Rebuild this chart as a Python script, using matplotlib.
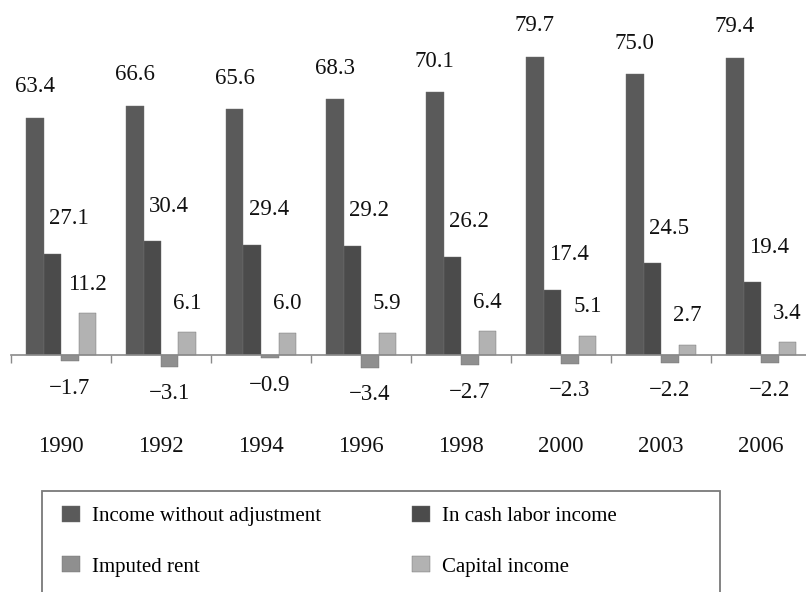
import matplotlib

matplotlib.use("Agg")
import matplotlib.pyplot as plt
import numpy as np
from matplotlib.patches import Rectangle

plt.rcParams["font.family"] = ["Liberation Serif", "DejaVu Serif"]

years = ["1990", "1992", "1994", "1996", "1998", "2000", "2003", "2006"]
series_names = ["Income without adjustment", "In cash labor income", "Imputed rent", "Capital income"]
income_wo_adj = [63.4, 66.6, 65.6, 68.3, 70.1, 79.7, 75.0, 79.4]
cash_labor = [27.1, 30.4, 29.4, 29.2, 26.2, 17.4, 24.5, 19.4]
imputed_rent = [-1.7, -3.1, -0.9, -3.4, -2.7, -2.3, -2.2, -2.2]
capital_income = [11.2, 6.1, 6.0, 5.9, 6.4, 5.1, 2.7, 3.4]

colors = ["#5a5a5a", "#4b4b4b", "#8f8f8f", "#b2b2b2"]
# label offsets (pixels) relative to bar end: (dx, dy)
label_offsets = [(0, 31), (17, 35), (0, -27), (0, 29)]

W, H = 806, 592
fig = plt.figure(figsize=(W / 100, H / 100), dpi=100)

px_per_unit = 3.745
base_y = 355
top_px, bot_px = 30, 400
left_px = 11
group_px = 100.0

ax = fig.add_axes([left_px / W, (H - bot_px) / H, 1 - left_px / W, (bot_px - top_px) / H])
ax.set_xlim(0, (W - left_px) / group_px)
ax.set_ylim(-(bot_px - base_y) / px_per_unit, (base_y - top_px) / px_per_unit)

x = np.arange(len(years))
bw = 0.175
start = 0.15
all_series = [income_wo_adj, cash_labor, imputed_rent, capital_income]
for i, (vals, name, col, off) in enumerate(zip(all_series, series_names, colors, label_offsets)):
    pos = x + start + bw * i + bw / 2
    ax.bar(pos, vals, width=bw, color=col, edgecolor="#6e6e6e", linewidth=0.3, label=name)
    for px, v in zip(pos, vals):
        txt = f"{v:.1f}".replace("-", "\u2212")
        ax.annotate(txt, (px, v), xytext=off, textcoords="offset pixels",
                    ha="center", va="center", fontsize=16.5, color="#111111",
                    annotation_clip=False)

for xi, yr in zip(x, years):
    ax.annotate(yr, (xi + 0.5, 0), xytext=(0, -92), textcoords="offset pixels",
                ha="center", va="center", fontsize=16.5, color="#111111",
                annotation_clip=False)

for s in ["top", "right", "left"]:
    ax.spines[s].set_visible(False)
ax.spines["bottom"].set_position(("data", 0))
ax.spines["bottom"].set_color("#8a8a8a")
ax.spines["bottom"].set_linewidth(1.2)
ax.set_xticks(np.arange(len(years)))
ax.tick_params(axis="x", direction="out", length=5.8, width=1.0, color="#8a8a8a",
               labelbottom=False)
ax.set_yticks([])

# legend box (runs past the bottom edge)
fig.patches.append(Rectangle((42 / W, -0.05), (720 - 42) / W, (H - 491) / H + 0.05,
                             transform=fig.transFigure, fill=False,
                             edgecolor="#7a7a7a", linewidth=1.3, clip_on=False))
handles, labels = ax.get_legend_handles_labels()
order = [0, 2, 1, 3]
fig.legend([handles[k] for k in order], [labels[k] for k in order],
           loc="upper left", bbox_to_anchor=(62 / W, 1 - 506 / H), ncol=2,
           frameon=False, fontsize=15, handlelength=0.85, handleheight=0.8,
           handletextpad=0.57, columnspacing=4.4, labelspacing=1.45,
           borderpad=0, borderaxespad=0)

fig.savefig("out.png", dpi=100)
